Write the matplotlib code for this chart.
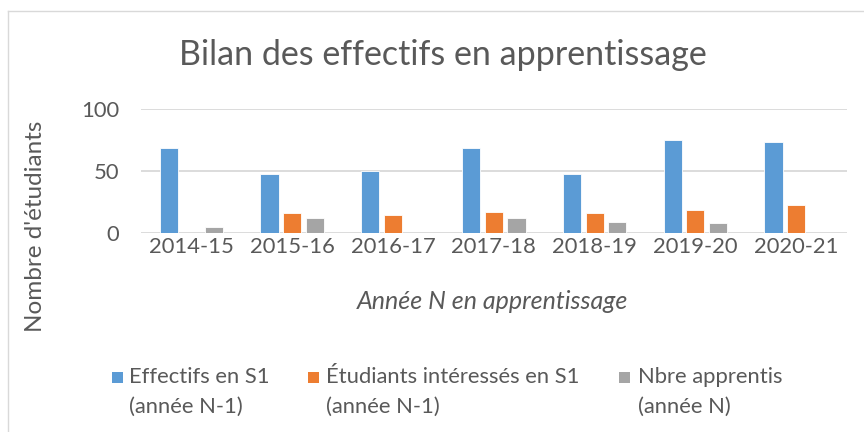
import matplotlib
matplotlib.use("Agg")
import matplotlib.pyplot as plt
import numpy as np
from matplotlib.patches import Rectangle
from matplotlib.lines import Line2D

plt.rcParams['font.family'] = ['Lato', 'DejaVu Sans']

years = ["2014-15", "2015-16", "2016-17", "2017-18", "2018-19", "2019-20", "2020-21"]
effectifs_s1 = [69, 48, 50, 69, 48, 75, 74]
interesses_s1 = [0, 16, 15, 17, 16, 19, 23]
apprentis = [5, 12, 0, 12, 9, 8, 0]
series_labels = ["Effectifs en S1\n(année N-1)",
                 "Étudiants intéressés en S1\n(année N-1)",
                 "Nbre apprentis\n(année N)"]
colors = ["#5B9BD5", "#ED7D31", "#A5A5A5"]
text_color = "#595959"

W, H = 864, 432
fig = plt.figure(figsize=(W / 100, H / 100), dpi=100)
ax = fig.add_axes([141 / W, 1 - 233.3 / H, 705.6 / W, 124 / H])

x = np.arange(len(years))
width = 0.18
step = 0.225
for i, vals in enumerate([effectifs_s1, interesses_s1, apprentis]):
    ax.bar(x + (i - 1) * step, vals, width=width, color=colors[i],
           edgecolor="white", linewidth=0.6, zorder=3)

ax.set_xlim(-0.5, len(years) - 0.5)
ax.set_ylim(0, 100)
ax.set_yticks([0, 50, 100])
ax.set_xticks(x)
ax.set_xticklabels(years)
ax.yaxis.grid(True, color="#D9D9D9", linewidth=1.3, zorder=0)
for s in ax.spines.values():
    s.set_visible(False)
ax.tick_params(axis="both", length=0, labelsize=15.8, colors=text_color)
ax.tick_params(axis="y", pad=15.5)
ax.tick_params(axis="x", pad=2.5)

ax.set_xlabel("Année N en apprentissage", fontsize=18, style="italic",
              color=text_color)
ax.xaxis.set_label_coords(0.4975, -0.46)
ax.set_ylabel("Nombre d'étudiants", fontsize=17.5, color=text_color)
ax.yaxis.set_label_coords(-0.135, 0.06)

fig.text(442.5 / W, 1 - 55 / H, "Bilan des effectifs en apprentissage",
         ha="center", va="center", fontsize=24.5, color=text_color)

# Legend: swatch aligned with the first line of each two-line label
swatch_x = [112, 308, 619]
text_x = [129, 326, 638]
for sx, tx, c, lab in zip(swatch_x, text_x, colors, series_labels):
    fig.patches.append(Rectangle((sx / W, 1 - 383 / H), 11 / W, 11 / H,
                                 transform=fig.transFigure, facecolor=c,
                                 edgecolor="none"))
    line1, line2 = lab.split("\n")
    fig.text(tx / W, 1 - 377 / H, line1, ha="left", va="center",
             fontsize=15.8, color=text_color)
    fig.text(tx / W, 1 - 407 / H, line2, ha="left", va="center",
             fontsize=15.8, color=text_color)

# Chart area frame (top and left edges)
fig.add_artist(Line2D([8 / W, 1], [1 - 11 / H, 1 - 11 / H],
                      transform=fig.transFigure, color="#D9D9D9", linewidth=1))
fig.add_artist(Line2D([8 / W, 8 / W], [0, 1 - 11 / H],
                      transform=fig.transFigure, color="#D9D9D9", linewidth=1))

fig.savefig("out.png", dpi=100)
